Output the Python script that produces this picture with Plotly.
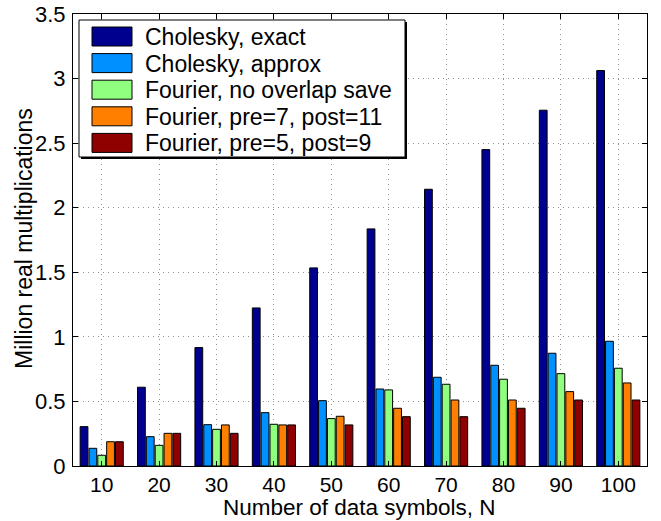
import plotly.graph_objects as go

N_values = [10, 20, 30, 40, 50, 60, 70, 80, 90, 100]
series_names = [
    "Cholesky, exact",
    "Cholesky, approx",
    "Fourier, no overlap save",
    "Fourier, pre=7, post=11",
    "Fourier, pre=5, post=9",
]
cholesky_exact = [0.305, 0.61, 0.917, 1.224, 1.534, 1.836, 2.143, 2.45, 2.755, 3.062]
cholesky_approx = [0.137, 0.227, 0.32, 0.413, 0.506, 0.596, 0.687, 0.78, 0.873, 0.966]
fourier_no_overlap = [0.083, 0.16, 0.284, 0.323, 0.367, 0.589, 0.633, 0.672, 0.715, 0.757]
fourier_pre7_post11 = [0.188, 0.253, 0.318, 0.318, 0.385, 0.447, 0.511, 0.511, 0.576, 0.643]
fourier_pre5_post9 = [0.188, 0.253, 0.253, 0.318, 0.318, 0.382, 0.382, 0.447, 0.511, 0.511]
y_ticks = [0, 0.5, 1, 1.5, 2, 2.5, 3, 3.5]
y_tick_labels = ["0", "0.5", "1", "1.5", "2", "2.5", "3", "3.5"]
x_title = "Number of data symbols, N"
y_title = "Million real multiplications"

colors = ["#00008F", "#0090FF", "#90FF80", "#FF8000", "#8F0000"]
series = [cholesky_exact, cholesky_approx, fourier_no_overlap,
          fourier_pre7_post11, fourier_pre5_post9]

FONT = "Liberation Sans, Arial, sans-serif"
W, H = 661, 521
L, R, T, B = 73, 14, 14, 55
pw, ph = W - L - R, H - T - B

fig = go.Figure()
for name, vals, col in zip(series_names, series, colors):
    fig.add_trace(go.Bar(
        x=N_values, y=vals, name=name,
        marker=dict(color=col, line=dict(color="black", width=1)),
        showlegend=False,
    ))

def px_x(p):
    return (p - L) / pw

def px_y(p):
    return (H - B - p) / ph

shapes = []
annotations = []
# manual legend (MATLAB style, big swatches)
shapes.append(dict(type="rect", xref="paper", yref="paper",
                   x0=px_x(81), x1=px_x(407), y0=px_y(159), y1=px_y(22),
                   fillcolor="black", line=dict(width=0), layer="above"))
shapes.append(dict(type="rect", xref="paper", yref="paper",
                   x0=px_x(79), x1=px_x(405), y0=px_y(157), y1=px_y(20),
                   fillcolor="white", line=dict(color="black", width=1), layer="above"))
row0 = 36.5
pitch = 26.6
for i, (name, col) in enumerate(zip(series_names, colors)):
    cy = row0 + i * pitch
    shapes.append(dict(type="rect", xref="paper", yref="paper",
                       x0=px_x(92), x1=px_x(132), y0=px_y(cy + 9.5), y1=px_y(cy - 9.5),
                       fillcolor=col, line=dict(color="black", width=1), layer="above"))
    annotations.append(dict(xref="paper", yref="paper", x=px_x(143), y=px_y(cy + 0.5),
                            xanchor="left", yanchor="middle", text=name, showarrow=False,
                            font=dict(family=FONT, size=23, color="black")))

# axis titles
annotations.append(dict(xref="paper", yref="paper", x=px_x(359), y=px_y(507),
                        xanchor="center", yanchor="middle", text=x_title, showarrow=False,
                        font=dict(family=FONT, size=22.5, color="black")))
annotations.append(dict(xref="paper", yref="paper", x=px_x(24), y=px_y(239),
                        xanchor="center", yanchor="middle", text=y_title, showarrow=False,
                        textangle=-90, font=dict(family=FONT, size=23, color="black")))

grid_dash = "1px,4px"
fig.update_layout(
    width=W, height=H,
    margin=dict(l=L, r=R, t=T, b=B, pad=0),
    paper_bgcolor="white", plot_bgcolor="white",
    barmode="group", bargap=0.23, bargroupgap=0.12,
    font=dict(family=FONT, size=22, color="black"),
    shapes=shapes, annotations=annotations,
    xaxis=dict(
        range=[5, 105], tickvals=N_values, ticktext=[str(v) for v in N_values],
        showline=True, linecolor="black", linewidth=1, mirror="ticks",
        ticks="inside", ticklen=5, tickcolor="black",
        showgrid=True, gridcolor="#909090", griddash=grid_dash, gridwidth=1,
        zeroline=False, ticklabelstandoff=0, automargin=False,
        tickfont=dict(size=21),
    ),
    yaxis=dict(
        range=[0, 3.5], tickvals=y_ticks, ticktext=y_tick_labels,
        showline=True, linecolor="black", linewidth=1, mirror="ticks",
        ticks="inside", ticklen=5, tickcolor="black",
        showgrid=True, gridcolor="#909090", griddash=grid_dash, gridwidth=1,
        zeroline=False, ticklabelstandoff=2, automargin=False,
        tickfont=dict(size=22),
    ),
)

fig.write_html("out.html")
